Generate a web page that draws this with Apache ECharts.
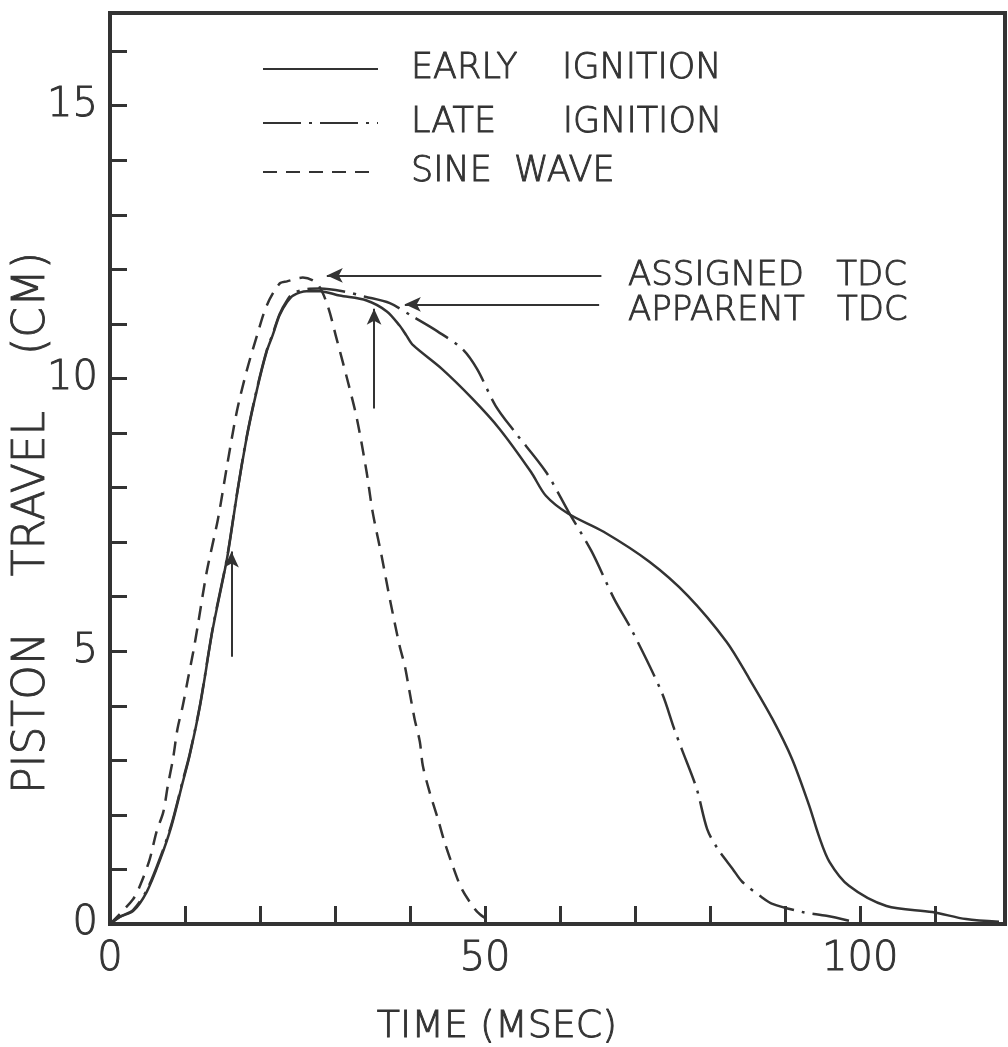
<!DOCTYPE html>
<html>
<head>
<meta charset="utf-8">
<title>Piston travel</title>
<script src="https://cdn.jsdelivr.net/npm/echarts@6/dist/echarts.min.js"></script>
<style>
  html, body { margin: 0; padding: 0; background: #fff; }
  #main { width: 1008px; height: 1047px; }
</style>
</head>
<body>
<div id="main"></div>
<script>
// ---------------------------------------------------------------
// data (time in msec, travel in cm)
// ---------------------------------------------------------------
var earlyT = [0, 1.3, 3.1, 4.9, 6.7, 8.2, 9.7, 10.6, 12.0, 13.7, 15.6, 16.9, 18.2, 19.6, 20.9, 21.7, 22.6, 23.6, 24.4, 26.2,
              28.0, 30.6, 34.2, 36.9, 38.6, 39.5, 40.4, 44.2, 48.3, 51.9, 56.1, 58.1, 61.1, 65.8, 71.9, 77.0, 82.2, 85.2,
              88.3, 90.9, 93.2, 94.5, 95.9, 98.5, 103.5, 109.6, 114.1, 118.5];
var earlyV = [0, 0.13, 0.24, 0.59, 1.19, 1.8, 2.6, 3.08, 4.0, 5.41, 6.7, 7.85, 8.9, 9.8, 10.5, 10.8, 11.16, 11.4, 11.52, 11.6,
              11.6, 11.52, 11.43, 11.23, 10.97, 10.79, 10.61, 10.18, 9.63, 9.08, 8.29, 7.85, 7.52, 7.19, 6.64, 6.02, 5.17, 4.5,
              3.76, 3.03, 2.17, 1.61, 1.14, 0.7, 0.33, 0.22, 0.09, 0.04];

var lateT = [0, 1.3, 3.1, 4.9, 6.7, 8.2, 9.7, 10.6, 12.0, 13.7, 15.6, 16.9, 18.2, 19.6, 20.9, 21.7, 22.6, 23.6, 24.4, 26.2,
             28.0, 31.0, 34.0, 37.3, 40.3, 43.7, 46.9, 48.9, 51.4, 53.9, 58.1, 61.1, 64.2, 67.2, 69.5, 73.5, 75.2, 76.2,
             78.2, 79.6, 81.0, 83.0, 84.3, 86.8, 88.3, 92.3, 95.5, 98.5];
var lateV = [0, 0.13, 0.26, 0.62, 1.22, 1.83, 2.63, 3.1, 4.02, 5.43, 6.72, 7.87, 8.92, 9.82, 10.52, 10.82, 11.18, 11.43, 11.56, 11.64,
             11.65, 11.6, 11.5, 11.38, 11.14, 10.86, 10.55, 10.18, 9.5, 9.03, 8.29, 7.56, 6.83, 5.96, 5.4, 4.26, 3.58, 3.21,
             2.48, 1.74, 1.38, 1.01, 0.77, 0.5, 0.37, 0.22, 0.15, 0.06];

var sineT = [0, 3.1, 4.2, 5.3, 6.2, 7.1, 7.7, 8.4, 9.0, 9.7, 10.4, 11.1, 11.7, 12.9, 14.4, 15.6, 16.9, 18.2, 19.6, 20.9,
             22.6, 23.6, 25.7, 27.6, 29.0, 30.2, 31.6, 32.9, 34.2, 35.0, 36.2, 37.3, 38.6, 39.3, 39.9, 40.6, 41.3, 41.7,
             42.6, 43.7, 44.6, 45.7, 46.9, 48.6, 49.3, 50.6];
var sineV = [0, 0.46, 0.77, 1.19, 1.69, 2.05, 2.53, 3.03, 3.58, 4.0, 4.5, 4.99, 5.47, 6.46, 7.43, 8.4, 9.39, 10.13, 10.79, 11.34,
             11.74, 11.78, 11.85, 11.74, 11.34, 10.73, 10.0, 9.27, 8.29, 7.56, 6.75, 5.96, 5.1, 4.73, 4.28, 3.76, 3.34, 2.9,
             2.42, 1.93, 1.5, 1.06, 0.64, 0.28, 0.18, 0.05];

var seriesNames = ['EARLY IGNITION', 'LATE IGNITION', 'SINE WAVE'];
var legendLabels = ['EARLY    IGNITION', 'LATE      IGNITION', 'SINE  WAVE'];

// annotation arrows [fromT, fromV, toT, toV]
var arrowAssigned = [65.5, 11.89, 28.9, 11.89];
var arrowApparent = [65.2, 11.36, 39.3, 11.36];
var arrowUpLate = [35.2, 9.45, 35.2, 11.28];
var arrowUpEarly = [16.2, 4.9, 16.2, 6.83];

var xTickLabels = [0, 50, 100];
var yTickLabels = [0, 5, 10, 15];

// ---------------------------------------------------------------
var INK = '#333';
var FONT = 'DejaVu Sans';
var WEIGHT = 200;     // thin lettering, thickened a little with a stroke
var STROKE = 0.9;

function pairs(t, v) {
    var out = [];
    for (var i = 0; i < t.length; i++) out.push([t[i], v[i]]);
    return out;
}
function arrow(a) {
    return [{ coord: [a[0], a[1]] }, { coord: [a[2], a[3]] }];
}
function note(text, x, y, size, align, rot) {
    return {
        type: 'text', x: x, y: y, rotation: rot || 0,
        style: {
            text: text, fill: INK, stroke: INK, lineWidth: STROKE,
            fontFamily: FONT, fontWeight: WEIGHT, fontSize: size,
            align: align, verticalAlign: 'middle', textAlign: align, textVerticalAlign: 'middle'
        }
    };
}

var chart = echarts.init(document.getElementById('main'));

// one legend block per row so each row sits where the original has it
var legendTop = [49, 103, 152];
var legends = seriesNames.map(function (name, i) {
    return {
        data: [name],
        left: 262,
        top: legendTop[i],
        padding: 0,
        itemWidth: 115,
        itemHeight: 10,
        selectedMode: false,
        itemStyle: { color: 'rgba(0,0,0,0)', borderWidth: 0 },
        formatter: function () { return legendLabels[i]; },
        textStyle: {
            fontFamily: FONT, fontWeight: WEIGHT, fontSize: 35, color: INK,
            textBorderColor: INK, textBorderWidth: STROKE,
            lineHeight: 40, padding: [0, 0, 0, 28]
        }
    };
});

var labelStyle = {
    fontFamily: FONT, fontWeight: WEIGHT, fontSize: 40, color: INK,
    textBorderColor: INK, textBorderWidth: STROKE, showMaxLabel: false
};

var option = {
    animation: false,
    backgroundColor: '#fff',
    grid: {
        left: 110, right: 3, top: 13, bottom: 123,
        show: true, borderColor: INK, borderWidth: 4,
        containLabel: false, outerBoundsMode: 'none'
    },
    legend: legends,
    xAxis: {
        type: 'value', min: 0, max: 119.3, interval: 10,
        axisLine: { lineStyle: { color: INK, width: 4 } },
        axisTick: { inside: true, length: 18, lineStyle: { color: INK, width: 3 } },
        splitLine: { show: false },
        axisLabel: Object.assign({
            margin: 16,
            formatter: function (v) { return xTickLabels.indexOf(v) >= 0 ? String(v) : ''; }
        }, labelStyle)
    },
    yAxis: {
        type: 'value', min: 0, max: 16.7, interval: 1,
        axisLine: { lineStyle: { color: INK, width: 4 } },
        axisTick: { inside: true, length: 17, lineStyle: { color: INK, width: 3 } },
        splitLine: { show: false },
        axisLabel: Object.assign({
            margin: 12,
            formatter: function (v) { return yTickLabels.indexOf(v) >= 0 ? String(v) : ''; }
        }, labelStyle)
    },
    series: [
        {
            name: seriesNames[0], type: 'line', symbol: 'none', smooth: 0.3,
            data: pairs(earlyT, earlyV),
            lineStyle: { color: INK, width: 2.5, type: 'solid' },
            itemStyle: { color: INK },
            markLine: {
                silent: true, symbol: ['none', 'arrow'], symbolSize: [11, 16],
                label: { show: false },
                lineStyle: { color: INK, width: 2, type: 'solid' },
                data: [arrow(arrowAssigned), arrow(arrowApparent), arrow(arrowUpLate), arrow(arrowUpEarly)]
            }
        },
        {
            name: seriesNames[1], type: 'line', symbol: 'none', smooth: 0.3,
            data: pairs(lateT, lateV),
            lineStyle: { color: INK, width: 2.5, type: [38, 8, 3, 8] },
            itemStyle: { color: INK }
        },
        {
            name: seriesNames[2], type: 'line', symbol: 'none', smooth: 0.3,
            data: pairs(sineT, sineV),
            lineStyle: { color: INK, width: 2.5, type: [14, 9] },
            itemStyle: { color: INK }
        }
    ],
    graphic: [
        note('ASSIGNED   TDC', 628, 276, 34, 'left'),
        note('APPARENT   TDC', 628, 311, 34, 'left'),
        note('TIME (MSEC)', 497, 1027, 38, 'center'),
        note('PISTON    TRAVEL    (CM)', 33, 523, 44, 'center', Math.PI / 2)
    ]
};

chart.setOption(option);
</script>
</body>
</html>
